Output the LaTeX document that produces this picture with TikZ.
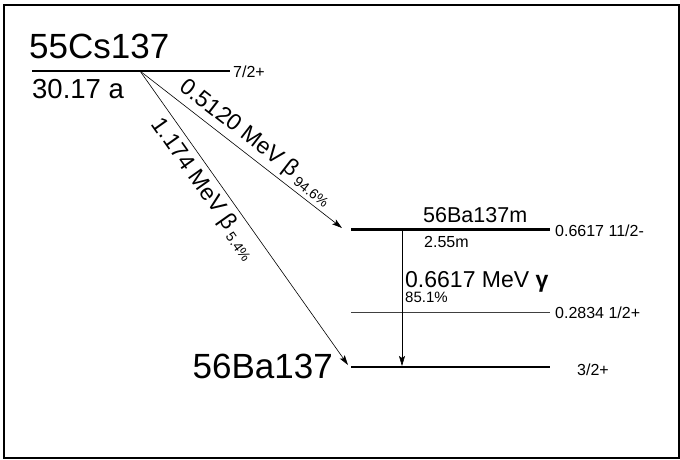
\documentclass[tikz,border=0pt]{standalone}
\usepackage{fontspec}
\setmainfont{Liberation Sans}
\usetikzlibrary{arrows.meta}
\begin{document}
\begin{tikzpicture}[x=1pt,y=-1pt,
        lvl/.style={line width=2.8pt},
        sublvl/.style={line width=0.8pt, black!75},
        trans/.style={line width=0.6pt, -{Stealth[length=10pt,width=6pt,inset=2pt]}},
        hugetext/.style={font=\fontsize{35}{35}\selectfont, inner sep=0pt},
        midtext/.style={font=\fontsize{23}{23}\selectfont, inner sep=0pt},
        isotope/.style={font=\fontsize{21.5}{21.5}\selectfont, inner sep=0pt},
        halflife/.style={font=\fontsize{27.5}{27.5}\selectfont, inner sep=0pt},
        spin/.style={font=\fontsize{16}{16}\selectfont, inner sep=0pt},
        smalltext/.style={font=\fontsize{15}{15}\selectfont, inner sep=0pt}]
        \useasboundingbox (0,0) rectangle (680,459);
        \draw[line width=1.2pt] (4,5) rectangle (679,458);
    % Level end points.
        \coordinate (cs-l) at (32,71);
        \coordinate (cs-r) at (230,71);
        \coordinate (cs-o) at (140,71);
        \coordinate (bam-l) at (351,229.5);
        \coordinate (bam-r) at (550,229.5);
        \coordinate (bam-in) at (342,228);
        \coordinate (mid-l) at (351,312);
        \coordinate (mid-r) at (550,312);
        \coordinate (ba-l) at (351,367);
        \coordinate (ba-r) at (550,367);
        \coordinate (ba-in) at (348,365);
        \coordinate (g-top) at (402,229.5);
        \coordinate (g-bot) at (402,366);
    % Levels.
        \draw[lvl] (cs-l) -- (cs-r);
        \draw[lvl] (bam-l) -- (bam-r);
        \draw[sublvl] (mid-l) -- (mid-r);
        \draw[lvl] (ba-l) -- (ba-r);
    % Transitions.
        \draw[trans] (cs-o) -- (bam-in)
            node[midtext, sloped, above=4pt, pos=0.53] (beta1)
            {0.5120 MeV β\,\raisebox{-0.35ex}{\fontsize{14}{14}\selectfont 94.6\%}};
        \draw[trans] (cs-o) -- (ba-in)
            node[midtext, sloped, below=5pt, pos=0.37] (beta2)
            {1.174 MeV β\,\raisebox{-0.35ex}{\fontsize{14}{14}\selectfont 5.4\%}};
        \draw[trans] (g-top) -- (g-bot);
    % Below nodes are the labels.
        \node[hugetext, anchor=base west] (cs) at (29,58) {55Cs137};
        \node[halflife, anchor=base west] (cs-t) at (32,98) {30.17 a};
        \node[spin, anchor=west] (cs-j) at (233,72) {7/2+};
        \node[isotope, anchor=base west] (bam) at (423,222) {56Ba137m};
        \node[spin, anchor=base west] (bam-t) at (424,247) {2.55m};
        \node[spin, anchor=west] (bam-j) at (555,231) {0.6617 11/2-};
        \node[spin, anchor=west] (mid-j) at (555,313) {0.2834 1/2+};
        \node[spin, anchor=west] (ba-j) at (577,370) {3/2+};
        \node[hugetext, anchor=base east] (ba) at (333,378) {56Ba137};
        \node[midtext, anchor=base west] (gam) at (405,287) {0.6617 MeV {\bfseries γ}};
        \node[smalltext, anchor=base west] (gam-i) at (405,302) {85.1\%};
    \end{tikzpicture}
\end{document}
